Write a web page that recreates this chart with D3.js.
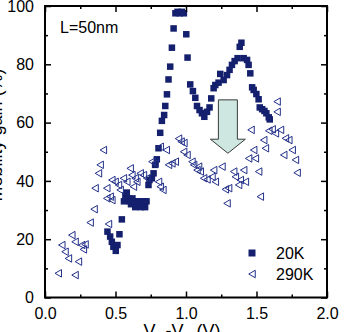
<!DOCTYPE html>
<html>
<head>
<meta charset="utf-8">
<script src="https://cdn.jsdelivr.net/npm/d3@7/dist/d3.min.js"></script>
<style>
  html, body { margin: 0; padding: 0; background: #fff; }
  svg { display: block; }
  text { font-family: "Liberation Sans", Arial, sans-serif; fill: #000; }
</style>
</head>
<body>
<div id="chart"></div>
<script>
// ---- data ----
const xTicksMajor = [0.0, 0.5, 1.0, 1.5, 2.0];
const xTicksMinor = [0.25, 0.75, 1.25, 1.75];
const yTicksMajor = [0, 20, 40, 60, 80, 100];
const yTicksMinor = [10, 30, 50, 70, 90];
const seriesNames = ["20K", "290K"];
const annotationText = "L=50nm";
const xLabel = ["V", "G", "-V", "T", " (V)"];
const yLabel = "Mobility gain (%)";
// arrow annotation (data coords): x centre, top value, tip value
const arrowX = 1.297, arrowTop = 67.8, arrowTip = 49.5;

// 20K series: [Vg-Vt, gain]
const data20K = [
  [0.443,22.6],[0.462,20.9],[0.474,19.1],[0.485,17.4],[0.502,16.0],[0.514,18.0],[0.528,21.7],[0.545,26.8],
  [0.56,33],[0.57,35],[0.58,36],[0.59,34],[0.60,33],[0.61,32],[0.62,34],[0.63,33],[0.64,31],[0.65,33],
  [0.66,32],[0.67,33],[0.68,31],[0.69,32],[0.70,33],[0.71,31],[0.72,33],
  [0.734,38.6],[0.741,40.3],[0.758,40.9],[0.77,42.6],[0.781,45.5],[0.793,47.4],[0.805,51.2],[0.817,56.5],
  [0.829,60.6],[0.845,62.6],[0.853,65.7],[0.865,69.7],[0.876,74.8],[0.888,79.2],[0.9,85.7],[0.912,92.3],
  [0.925,97.5],[0.94,98],[0.955,97.5],[0.97,98],[0.985,97.5],
  [1.002,90.3],[1.011,82.3],[1.03,73.1],[1.049,70.8],[1.066,68.5],[1.078,65.7],[1.096,64.3],[1.113,63.2],
  [1.13,62.0],[1.149,63.7],[1.167,65.2],[1.179,68.3],[1.196,71.8],[1.208,72.9],[1.231,73.7],[1.243,76.7],
  [1.267,74.6],[1.291,76.3],[1.309,78.1],[1.326,79.8],[1.345,81.1],[1.366,82.1],[1.381,86.0],[1.393,87.4],
  [1.409,82.1],[1.433,81.5],[1.444,79.8],[1.456,76.9],[1.469,72.1],[1.48,71.2],[1.499,69.8],[1.515,68.0],
  [1.523,65.2],[1.54,64.6],[1.556,64.0],[1.57,63.2],[1.587,61.8],[1.594,61.1]
];

// 290K series: [Vg-Vt, gain]
const data290K = [
  [0.094,8.3],[0.213,7.7],[0.166,13.4],[0.237,12.3],[0.142,15.7],[0.119,18.0],[0.19,21.4],[0.213,19.1],
  [0.26,18.0],[0.272,16.5],[0.284,18.2],[0.32,25.7],[0.348,30.3],[0.45,25.2],
  [0.414,50.6],[0.391,45.5],[0.379,42.6],[0.355,37.5],[0.438,37.5],[0.462,34.6],[0.438,34.0],[0.474,33.4],
  [0.474,40.3],[0.497,39.7],[0.521,38.6],[0.533,36.9],[0.556,40.9],[0.58,39.7],[0.604,44.3],[0.616,42.0],
  [0.627,38.0],[0.639,40.9],[0.651,39.7],[0.675,42.6],[0.698,42.0],[0.722,40.9],[0.758,46.6],[0.781,46.0],
  [0.805,39.7],[0.817,38.0],[0.836,36.9],[0.817,51.7],[0.86,50.6],[0.876,45.5],[0.9,46.0],[0.924,46.6],
  [0.947,54.5],[0.965,53.5],[0.985,53.0],
  [0.983,50.0],[1.007,48.9],[1.042,46.6],[1.054,45.5],[1.078,43.7],[1.089,44.9],[1.101,43.2],[1.125,40.9],
  [1.149,40.5],[1.184,41.4],[1.196,43.7],[1.208,39.7],[1.255,44.9],[1.279,37.1],[1.302,37.5],[1.338,43.2],
  [1.35,41.4],[1.373,38.6],[1.385,40.3],[1.409,43.7],[1.421,39.7],[1.291,32.3],[1.444,47.7],[1.48,50.6],
  [1.492,47.7],[1.515,43.2],[1.527,34.6],[1.551,54.0],[1.563,51.2],[1.461,57.5],[1.587,57.2],[1.611,57.7],
  [1.634,56.3],[1.67,57.5],[1.705,54.6],[1.729,54.0],[1.693,48.9],[1.753,50.6],[1.776,47.2],[1.788,42.8],
  [1.646,67.2],[1.646,63.7]
];

// ---- layout ----
const W = 350, H = 332;
const pLeft = 45, pRight = 327, pTop = 6, pBottom = 297.5;
const navy = "#14206e";

const svg = d3.select("#chart").append("svg").attr("width", W).attr("height", H);

const x = d3.scaleLinear().domain([0, 2]).range([pLeft, pRight]);
const y = d3.scaleLinear().domain([0, 100]).range([pBottom, pTop]);

svg.append("clipPath").attr("id", "plotclip")
  .append("rect").attr("x", pLeft).attr("y", pTop).attr("width", pRight - pLeft).attr("height", pBottom - pTop);

// ---- markers ----
const g = svg.append("g").attr("clip-path", "url(#plotclip)");
const sq = 6.5;
g.selectAll("rect.s20").data(data20K).join("rect")
  .attr("class", "s20")
  .attr("x", d => x(d[0]) - sq / 2).attr("y", d => y(d[1]) - sq / 2)
  .attr("width", sq).attr("height", sq).attr("fill", navy);

const triPath = (cx, cy) => {
  const w = 6.5, h = 7.5;
  return `M${cx - w / 2},${cy} L${cx + w / 2},${cy - h / 2} L${cx + w / 2},${cy + h / 2} Z`;
};
g.selectAll("path.s290").data(data290K).join("path")
  .attr("class", "s290")
  .attr("d", d => triPath(x(d[0]), y(d[1])))
  .attr("fill", "none").attr("stroke", "#23318a").attr("stroke-width", 1);

// ---- arrow ----
const ax = x(arrowX), aTop = y(arrowTop), aTip = y(arrowTip);
const shaftHalf = 9.5, headHalf = 17.5, headLen = 14;
const aPath = `M${ax - shaftHalf},${aTop} L${ax + shaftHalf},${aTop} L${ax + shaftHalf},${aTip - headLen}
  L${ax + headHalf},${aTip - headLen} L${ax},${aTip} L${ax - headHalf},${aTip - headLen}
  L${ax - shaftHalf},${aTip - headLen} Z`;
svg.append("path").attr("d", aPath).attr("fill", "#cfe7e1").attr("stroke", "#3a3a3a").attr("stroke-width", 1);

// ---- axes ----
const fs = 16;
function styleAxis(sel) {
  sel.select(".domain").remove();
  sel.selectAll("line").attr("stroke", "#000").attr("stroke-width", 1.5);
  sel.selectAll("text").style("font-size", fs + "px").style("font-family", '"Liberation Sans", Arial, sans-serif');
}
// bottom
svg.append("g").attr("transform", `translate(0,${pBottom})`)
  .call(d3.axisBottom(x).tickValues(xTicksMajor).tickSize(-6).tickPadding(10).tickFormat(d3.format(".1f")))
  .call(styleAxis);
svg.append("g").attr("transform", `translate(0,${pBottom})`)
  .call(d3.axisBottom(x).tickValues(xTicksMinor).tickSize(-3).tickFormat(""))
  .call(styleAxis);
// top
svg.append("g").attr("transform", `translate(0,${pTop})`)
  .call(d3.axisTop(x).tickValues(xTicksMajor).tickSize(-6).tickFormat(""))
  .call(styleAxis);
svg.append("g").attr("transform", `translate(0,${pTop})`)
  .call(d3.axisTop(x).tickValues(xTicksMinor).tickSize(-3).tickFormat(""))
  .call(styleAxis);
// left
svg.append("g").attr("transform", `translate(${pLeft},0)`)
  .call(d3.axisLeft(y).tickValues(yTicksMajor).tickSize(-6).tickPadding(11).tickFormat(d3.format("d")))
  .call(styleAxis);
svg.append("g").attr("transform", `translate(${pLeft},0)`)
  .call(d3.axisLeft(y).tickValues(yTicksMinor).tickSize(-3).tickFormat(""))
  .call(styleAxis);
// right
svg.append("g").attr("transform", `translate(${pRight},0)`)
  .call(d3.axisRight(y).tickValues(yTicksMajor).tickSize(-6).tickFormat(""))
  .call(styleAxis);
svg.append("g").attr("transform", `translate(${pRight},0)`)
  .call(d3.axisRight(y).tickValues(yTicksMinor).tickSize(-3).tickFormat(""))
  .call(styleAxis);

// frame
svg.append("rect").attr("x", pLeft).attr("y", pTop).attr("width", pRight - pLeft).attr("height", pBottom - pTop)
  .attr("fill", "none").attr("stroke", "#000").attr("stroke-width", 2);

// ---- texts ----
svg.append("text").attr("x", 60).attr("y", 33).style("font-size", fs + "px").text(annotationText);

const xl = svg.append("text").attr("x", 182).attr("y", 337).attr("text-anchor", "middle").style("font-size", "18px");
xl.append("tspan").text(xLabel[0]);
xl.append("tspan").attr("dy", 4).style("font-size", "13px").text(xLabel[1]);
xl.append("tspan").attr("dy", -4).text(xLabel[2]);
xl.append("tspan").attr("dy", 4).style("font-size", "13px").text(xLabel[3]);
xl.append("tspan").attr("dy", -4).text(xLabel[4]);

svg.append("text").attr("transform", "translate(2,135) rotate(-90)").attr("text-anchor", "middle")
  .style("font-size", "18px").text(yLabel);

// ---- legend ----
const lg = svg.append("g");
lg.append("rect").attr("x", 252 - 3.5).attr("y", 253 - 3.5).attr("width", 7).attr("height", 7).attr("fill", navy);
lg.append("path").attr("d", triPath(252, 274)).attr("fill", "none").attr("stroke", "#23318a").attr("stroke-width", 1);
lg.append("text").attr("x", 276).attr("y", 258.5).style("font-size", fs + "px").text(seriesNames[0]);
lg.append("text").attr("x", 276).attr("y", 280).style("font-size", fs + "px").text(seriesNames[1]);
</script>
</body>
</html>
